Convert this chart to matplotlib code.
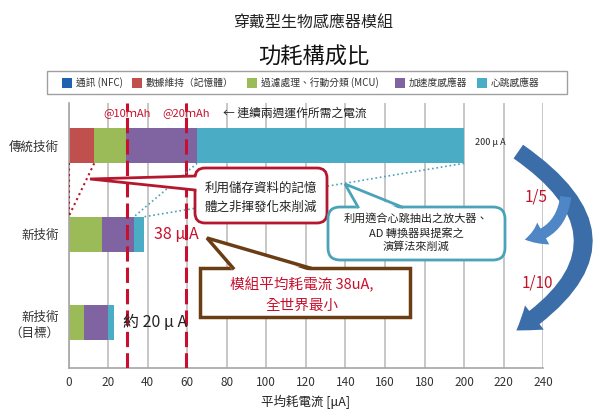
import numpy as np
import matplotlib.pyplot as plt
from matplotlib.patches import FancyBboxPatch, FancyArrowPatch, Polygon, Rectangle

plt.rcParams['font.family'] = ['Noto Sans CJK TC', 'DejaVu Sans']

# data (uA)
categories = ['傳統技術', '新技術', '新技術\n（目標）']
components = ['通訊 (NFC)', '數據維持（記憶體）', '過濾處理、行動分類 (MCU)', '加速度感應器', '心跳感應器']
colors = ['#1f63b0', '#c0504d', '#9bbb59', '#8064a2', '#4bacc6']
nfc = [0, 0, 0]
memory = [13, 0, 0]
mcu = [16, 17, 8]
accel = [36, 16, 12]
heart = [135, 5, 3]
two_week_lines = [29.8, 59.5]      # current for 10mAh / 20mAh over two weeks
two_week_labels = ['@10ｍAh', '@20ｍAh']
xticks = list(range(0, 241, 20))

series = [nfc, memory, mcu, accel, heart]
ypos = [2, 1, 0]
bar_h = 0.395

fig = plt.figure(figsize=(6, 4.2), dpi=100)
ax = fig.add_axes([0.1142, 0.1245, 0.7913, 0.631])

left = np.zeros(3)
for vals, col in zip(series, colors):
    ax.barh(ypos, vals, left=left, height=bar_h, color=col, zorder=2)
    left += np.array(vals)
totals = left

ax.set_xlim(0, 240)
ax.set_ylim(-0.506, 2.487)
ax.set_xticks(xticks)
ax.set_yticks(ypos)
ax.set_yticklabels(categories, fontsize=9, color='#333333')
ax.tick_params(axis='x', length=0, pad=6, labelsize=8.5, colors='#333333')
ax.tick_params(axis='y', length=0, pad=7)
ax.xaxis.grid(True, color='#bdbdbd', lw=1.2, zorder=0)
ax.set_axisbelow(True)
for s in ['top', 'right']:
    ax.spines[s].set_visible(False)
for s in ['left', 'bottom']:
    ax.spines[s].set_color('#a6a6a6')
    ax.spines[s].set_linewidth(1.2)
ax.set_xlabel('平均耗電流 [μA]', fontsize=9, color='#222222', labelpad=4)

# two-week reference lines
for xv, lab in zip(two_week_lines, two_week_labels):
    ax.axvline(xv, color='#c8102e', lw=2.2, dashes=(5, 2), zorder=3)
    ax.text(xv, 2.37, lab, color='#c8102e', fontsize=8, ha='center', va='center')
ax.text(78, 2.37, '← 連續兩週運作所需之電流', fontsize=8.5, color='#222222', va='center')
ax.text(totals[0] + 5.5, 2.04, '200 μ A', fontsize=6.5, color='#222222', va='center')

# dotted connectors between bars
top_new = ypos[1] + bar_h / 2
bot_old = ypos[0] - bar_h / 2
old_cum = np.cumsum([s[0] for s in series])
new_cum = np.cumsum([s[1] for s in series])
ax.plot([0, 0], [bot_old, top_new], ls=':', color='#b5172e', lw=1.5, zorder=3)
ax.plot([old_cum[1], 0], [bot_old, top_new], ls=':', color='#b5172e', lw=1.5, zorder=3)
ax.plot([old_cum[3], new_cum[3]], [bot_old, top_new], ls=':', color='#4aa3b8', lw=1.2, zorder=3)
ax.plot([old_cum[4], new_cum[4]], [bot_old, top_new], ls=':', color='#4aa3b8', lw=1.2, zorder=3)

# overlay in pixel coords for titles, legend, callouts
ov = fig.add_axes([0, 0, 1, 1], zorder=5)
ov.set_xlim(0, 600)
ov.set_ylim(420, 0)
ov.axis('off')
ov.patch.set_alpha(0)

ov.text(313, 23, '穿戴型生物感應器模組', fontsize=11.5, ha='center', va='center', color='#222222')
ov.text(314, 57, '功耗構成比', fontsize=16, ha='center', va='center', color='#111111')

# legend
ov.add_patch(Rectangle((47, 71), 520, 23, fc='white', ec='#a0a0a0', lw=1))
sq_x = [62, 132, 247, 395, 477]
for sx, col, name in zip(sq_x, colors, components):
    ov.add_patch(Rectangle((sx, 78), 10, 10, fc=col, ec='none'))
    ov.text(sx + 14, 83, name, fontsize=7, va='center', color='#333333')


def callout(x0, y0, x1, y1, tip, b0, b1, edge, lw, round_size, inward):
    style = 'round,pad=0,rounding_size=%d' % round_size if round_size else 'square,pad=0'
    ov.add_patch(FancyBboxPatch((x0, y0), x1 - x0, y1 - y0, boxstyle=style,
                                fc='white', ec=edge, lw=lw, zorder=6))
    fb0 = (b0[0] + inward[0], b0[1] + inward[1])
    fb1 = (b1[0] + inward[0], b1[1] + inward[1])
    ov.add_patch(Polygon([fb0, tip, fb1], closed=True, fc='white', ec='none', zorder=7))
    ov.plot([b0[0], tip[0], b1[0]], [b0[1], tip[1], b1[1]], color=edge, lw=lw, zorder=8,
            solid_joinstyle='miter')


callout(195, 168, 327, 223, (90, 179), (195, 176), (195, 190), '#b5172e', 2, 10, (3, 0))
ov.text(261, 188, '利用儲存資料的記憶', fontsize=9, ha='center', va='center', color='#222222', zorder=9)
ov.text(261, 207, '體之非揮發化來削減', fontsize=9, ha='center', va='center', color='#222222', zorder=9)

callout(328, 207, 505, 260, (345, 184), (358, 207), (402, 207), '#4aa3b8', 2, 12, (0, 3))
for ty, line in zip([218, 233, 247], ['利用適合心跳抽出之放大器、', 'AD 轉換器與提案之', '演算法來削減']):
    ov.text(416, ty, line, fontsize=8, ha='center', va='center', color='#222222', zorder=9)

callout(200, 268, 410, 317, (207, 238), (233, 268), (310, 268), '#6b3d14', 2.5, 0, (0, 3))
ov.text(302, 285, '模組平均耗電流 38uA,', fontsize=10.5, ha='center', va='center', color='#c8102e', zorder=9)
ov.text(302, 306, '全世界最小', fontsize=10.5, ha='center', va='center', color='#c8102e', zorder=9)

ov.text(154, 234, '38 μ A', fontsize=11.5, va='center', color='#c8102e', zorder=9)
ov.text(123, 323, '約 20 μ A', fontsize=11.5, va='center', color='#222222', zorder=9)

# reduction arrows
big = FancyArrowPatch((516, 150), (514, 332), connectionstyle='arc3,rad=-0.75',
                      arrowstyle='simple,head_width=22,head_length=16,tail_width=12',
                      mutation_scale=1, fc='#3b6ea8', ec='none', zorder=6)
ov.add_patch(big)
small = FancyArrowPatch((566, 194), (522, 240), connectionstyle='arc3,rad=-0.4',
                        arrowstyle='simple,head_width=18,head_length=14,tail_width=8',
                        mutation_scale=1, fc='#4f86c6', ec='none', zorder=7)
ov.add_patch(small)
ov.text(536, 197, '1/5', fontsize=11, ha='center', va='center', color='#c0142a', zorder=9)
ov.text(537, 283, '1/10', fontsize=11, ha='center', va='center', color='#c0142a', zorder=9)

fig.savefig('out.png', dpi=100)
